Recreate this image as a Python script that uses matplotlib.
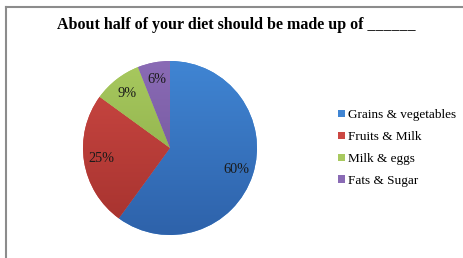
import matplotlib
matplotlib.use("Agg")
import matplotlib.pyplot as plt
import numpy as np
from matplotlib.colors import LinearSegmentedColormap
from matplotlib.lines import Line2D

categories = ["Grains & vegetables", "Fruits & Milk", "Milk & eggs", "Fats & Sugar"]
values = [60, 25, 9, 6]
title = "About half of your diet should be made up of ______"

# (top, bottom) shades for the Excel-like gradient fill
shades = [("#4085d3", "#2e62aa"),
          ("#cc4843", "#a5322e"),
          ("#a8c95f", "#84a642"),
          ("#8a6bb5", "#6b4f95")]

W, H = 464, 258
fig = plt.figure(figsize=(W / 100, H / 100), dpi=100)
fig.patch.set_facecolor("white")
plt.rcParams["font.family"] = ["Liberation Serif", "DejaVu Serif"]

# frame lines (left and top only)
fig.add_artist(Line2D([6.5 / W, 6.5 / W], [0, 1 - 6.5 / H],
                      transform=fig.transFigure, color="#8c8c8c", lw=1.5))
fig.add_artist(Line2D([6.5 / W, 1], [1 - 6.5 / H, 1 - 6.5 / H],
                      transform=fig.transFigure, color="#8c8c8c", lw=1.5))

cx, cy, r = 170, 148, 87
ax = fig.add_axes([(cx - r) / W, (H - cy - r) / H, 2 * r / W, 2 * r / H])

wedges, texts, autotexts = ax.pie(
    values, startangle=90, counterclock=False, radius=1,
    colors=[s[0] for s in shades], autopct=lambda p: f"{p:.0f}%",
    pctdistance=0.8, textprops=dict(fontsize=10.3, color="#1a1a1a"),
    wedgeprops=dict(linewidth=0),
)
grad = np.linspace(0, 1, 256).reshape(-1, 1)
for w, (top, bottom) in zip(wedges, shades):
    cmap = LinearSegmentedColormap.from_list("g", [top, bottom])
    im = ax.imshow(grad, extent=[-1, 1, -1, 1], cmap=cmap, aspect="auto",
                   origin="upper", zorder=1.5)
    im.set_clip_path(w)
for t in autotexts:
    t.set_zorder(3)
ax.set_xlim(-1, 1)
ax.set_ylim(-1, 1)
ax.set_aspect("equal")
ax.axis("off")

fig.text(236.5 / W, 1 - 25 / H, title, ha="center", va="center",
         fontsize=11.5, fontweight="bold")

leg = fig.legend(wedges, categories, loc="center left",
                 bbox_to_anchor=(338 / W, 1 - 148 / H), frameon=False,
                 fontsize=9.5, handlelength=0.5, handleheight=0.5,
                 handletextpad=0.25, labelspacing=0.75, borderpad=0,
                 borderaxespad=0)

fig.savefig("out.png", dpi=100)
